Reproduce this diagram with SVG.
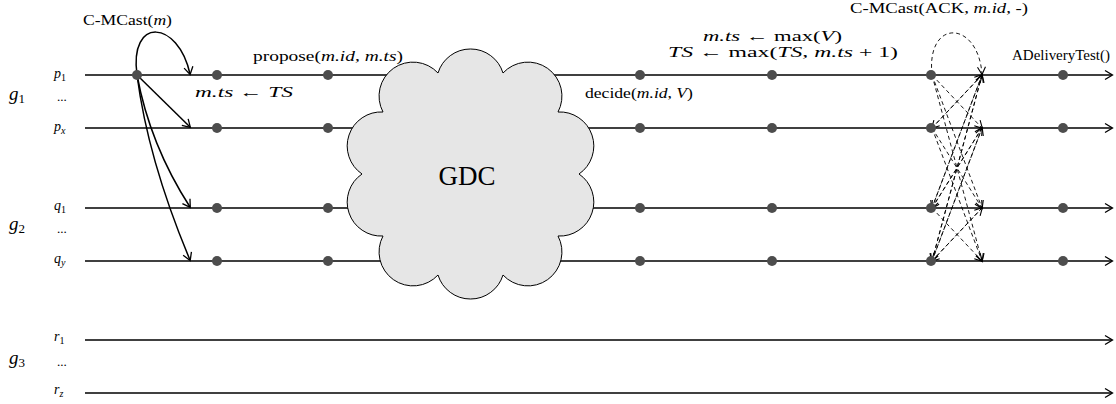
<svg xmlns="http://www.w3.org/2000/svg" width="1116" height="404" viewBox="0 0 1116 404">
<style>
.t{font-family:"Liberation Serif","Times New Roman",serif;font-size:14.5px;fill:#000}
.i{font-style:italic}
.lbl{font-family:"Liberation Serif","Times New Roman",serif;font-size:14px;font-style:italic;fill:#000}
.grp{font-family:"Liberation Serif","Times New Roman",serif;font-size:19px;font-style:italic;fill:#000}
.sub{font-style:normal;font-size:10px}
.gsub{font-style:normal;font-size:13px}
.isub{font-style:italic;font-size:10px}
.dots{font-family:"Liberation Serif",serif;font-size:13px;fill:#000}
.big{font-size:27px}
.tl{fill:none;stroke:#000;stroke-width:1.5}
.ar{fill:none;stroke:#000;stroke-width:1.5}
.da{fill:none;stroke:#000;stroke-width:0.9;stroke-dasharray:4 3}
.dot{fill:#4d4d4d}
</style>
<defs>
<marker id="ah" markerWidth="12" markerHeight="12" refX="9" refY="6" orient="auto" markerUnits="userSpaceOnUse">
<path d="M2,1.5 L9.5,6 L2,10.5" fill="none" stroke="#000" stroke-width="1.3"/>
</marker>
<marker id="ahs" markerWidth="12" markerHeight="12" refX="9" refY="6" orient="auto" markerUnits="userSpaceOnUse">
<path d="M2,2 L9.5,6 L2,10" fill="none" stroke="#000" stroke-width="1.1"/>
</marker>
</defs>

<g id="timelines">
<line class="tl" x1="85" y1="75" x2="1112" y2="75" marker-end="url(#ah)"/>
<line class="tl" x1="85" y1="128" x2="1112" y2="128" marker-end="url(#ah)"/>
<line class="tl" x1="85" y1="208" x2="1112" y2="208" marker-end="url(#ah)"/>
<line class="tl" x1="85" y1="261" x2="1112" y2="261" marker-end="url(#ah)"/>
<line class="tl" x1="85" y1="340" x2="1112" y2="340" marker-end="url(#ah)"/>
<line class="tl" x1="85" y1="393" x2="1112" y2="393" marker-end="url(#ah)"/>
</g>

<g id="labels">
<text class="grp" x="9" y="100">g<tspan class="gsub" dy="3">1</tspan></text>
<text class="grp" x="9" y="230">g<tspan class="gsub" dy="3">2</tspan></text>
<text class="grp" x="9" y="364">g<tspan class="gsub" dy="3">3</tspan></text>
<text class="lbl" x="54" y="78">p<tspan class="sub" dy="3">1</tspan></text>
<text class="dots" x="57" y="101">...</text>
<text class="lbl" x="54" y="131">p<tspan class="isub" dy="3">x</tspan></text>
<text class="lbl" x="54" y="210">q<tspan class="sub" dy="3">1</tspan></text>
<text class="dots" x="57" y="233">...</text>
<text class="lbl" x="54" y="263">q<tspan class="isub" dy="3">y</tspan></text>
<text class="lbl" x="54" y="341">r<tspan class="sub" dy="3">1</tspan></text>
<text class="dots" x="57" y="366">...</text>
<text class="lbl" x="54" y="394">r<tspan class="isub" dy="3">z</tspan></text>
</g>

<g id="connectors">
<path class="ar" d="M137,75 C129,16 178,20 190,74" marker-end="url(#ah)"/>
<path class="ar" d="M137,75 L190,127" marker-end="url(#ah)"/>
<path class="ar" d="M137,75 Q150,145 190,207" marker-end="url(#ah)"/>
<path class="ar" d="M137,75 Q148,160 190,260" marker-end="url(#ah)"/>

<g id="acks">
<path class="da" d="M932,75 C926,18 978,20 982,74" marker-end="url(#ahs)"/>
<path class="da" d="M932,75 L982,128" marker-end="url(#ahs)"/>
<path class="da" d="M932,75 L982,208" marker-end="url(#ahs)"/>
<path class="da" d="M932,75 L982,261" marker-end="url(#ahs)"/>
<path class="da" d="M932,128 L982,75" marker-end="url(#ahs)"/>
<path class="da" d="M932,128 L982,208" marker-end="url(#ahs)"/>
<path class="da" d="M932,128 L982,261" marker-end="url(#ahs)"/>
<path class="da" d="M932,208 L982,75" marker-end="url(#ahs)"/>
<path class="da" d="M932,208 L982,128" marker-end="url(#ahs)"/>
<path class="da" d="M932,208 L982,261" marker-end="url(#ahs)"/>
<path class="da" d="M932,261 L982,75" marker-end="url(#ahs)"/>
<path class="da" d="M932,261 L982,128" marker-end="url(#ahs)"/>
<path class="da" d="M932,261 L982,208" marker-end="url(#ahs)"/>
<path class="da" d="M982,75 L932,128" marker-end="url(#ahs)"/>
<path class="da" d="M982,75 L932,208" marker-end="url(#ahs)"/>
<path class="da" d="M982,75 L932,261" marker-end="url(#ahs)"/>
<path class="da" d="M982,128 L932,208" marker-end="url(#ahs)"/>
<path class="da" d="M982,128 L932,261" marker-end="url(#ahs)"/>
<path class="da" d="M982,208 L932,261" marker-end="url(#ahs)"/>
</g>
</g>

<g id="events">
<circle class="dot" cx="137" cy="75" r="5"/>
<circle class="dot" cx="217" cy="75" r="5"/>
<circle class="dot" cx="217" cy="128" r="5"/>
<circle class="dot" cx="217" cy="208" r="5"/>
<circle class="dot" cx="217" cy="261" r="5"/>
<circle class="dot" cx="328" cy="75" r="5"/>
<circle class="dot" cx="328" cy="128" r="5"/>
<circle class="dot" cx="328" cy="208" r="5"/>
<circle class="dot" cx="328" cy="261" r="5"/>
<circle class="dot" cx="640" cy="75" r="5"/>
<circle class="dot" cx="640" cy="128" r="5"/>
<circle class="dot" cx="640" cy="208" r="5"/>
<circle class="dot" cx="640" cy="261" r="5"/>
<circle class="dot" cx="772" cy="75" r="5"/>
<circle class="dot" cx="772" cy="128" r="5"/>
<circle class="dot" cx="772" cy="208" r="5"/>
<circle class="dot" cx="772" cy="261" r="5"/>
<circle class="dot" cx="931" cy="75" r="5"/>
<circle class="dot" cx="931" cy="128" r="5"/>
<circle class="dot" cx="931" cy="208" r="5"/>
<circle class="dot" cx="931" cy="261" r="5"/>
<circle class="dot" cx="1063" cy="75" r="5"/>
<circle class="dot" cx="1063" cy="128" r="5"/>
<circle class="dot" cx="1063" cy="208" r="5"/>
<circle class="dot" cx="1063" cy="261" r="5"/>
</g>

<g id="gdc">
<path d="M438,73 A34,34 0 0 1 503,73 A34,34 0 0 1 558,112 A34,34 0 0 1 579,174 A34,34 0 0 1 558,236 A34,34 0 0 1 503,275 A34,34 0 0 1 438,275 A34,34 0 0 1 383,236 A34,34 0 0 1 362,174 A34,34 0 0 1 383,112 A34,34 0 0 1 438,73 Z" fill="#e6e6e6" stroke="#000" stroke-width="1"/>
<text class="t big" x="467" y="185" text-anchor="middle">GDC</text>
</g>

<g id="annotations">
<text class="t" x="83" y="25" textLength="89" lengthAdjust="spacingAndGlyphs">C-MCast(<tspan class="i">m</tspan>)</text>
<text class="t" x="253" y="61" textLength="150" lengthAdjust="spacingAndGlyphs">propose(<tspan class="i">m.id</tspan>, <tspan class="i">m.ts</tspan>)</text>
<text class="t" x="195" y="97" textLength="98" lengthAdjust="spacingAndGlyphs"><tspan class="i">m.ts</tspan> ← <tspan class="i">TS</tspan></text>
<text class="t" x="585" y="98" textLength="108" lengthAdjust="spacingAndGlyphs">decide(<tspan class="i">m.id</tspan>, <tspan class="i">V</tspan>)</text>
<text class="t" x="703" y="41" textLength="139" lengthAdjust="spacingAndGlyphs"><tspan class="i">m.ts</tspan> ← max(<tspan class="i">V</tspan>)</text>
<text class="t" x="668" y="57" textLength="230" lengthAdjust="spacingAndGlyphs"><tspan class="i">TS</tspan> ← max(<tspan class="i">TS</tspan>, <tspan class="i">m.ts</tspan> + 1)</text>
<text class="t" x="850" y="13" textLength="178" lengthAdjust="spacingAndGlyphs">C-MCast(ACK,  <tspan class="i">m.id</tspan>,  -)</text>
<text class="t" x="1012" y="60" textLength="98" lengthAdjust="spacingAndGlyphs">ADeliveryTest()</text>
</g>
</svg>
